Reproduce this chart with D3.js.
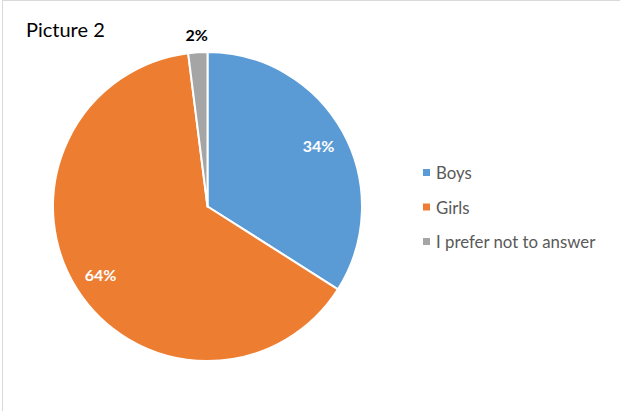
<!DOCTYPE html>
<html>
<head>
<meta charset="utf-8">
<script src="https://cdn.jsdelivr.net/npm/d3@7"></script>
<style>
  html, body { margin: 0; padding: 0; background: #fff; }
  svg { display: block; }
</style>
</head>
<body>
<svg id="chart" width="620" height="411"></svg>
<script>
// Survey answers, share of respondents (%)
const categories = ["Boys", "Girls", "I prefer not to answer"];
const values = [34, 64, 2];
const colors = ["#5b9bd5", "#ed7d31", "#a5a5a5"];
const labelColors = ["#ffffff", "#ffffff", "#000000"];
const title = "Picture 2";

const font = "Lato, 'Open Sans', sans-serif";
const svg = d3.select("#chart");

// chart area frame
svg.append("rect")
  .attr("x", 2.5).attr("y", 0.5)
  .attr("width", 640).attr("height", 420)
  .attr("fill", "#fff")
  .attr("stroke", "#d9d9d9").attr("stroke-width", 1);

svg.append("text")
  .attr("x", 26).attr("y", 37)
  .attr("font-family", font).attr("font-size", 20)
  .attr("fill", "#000")
  .text(title);

const cx = 207.5, cy = 206.5, r = 154.5;
const data = categories.map((c, i) => ({ name: c, value: values[i], color: colors[i], labelColor: labelColors[i] }));

const pie = d3.pie().sort(null).value(d => d.value);
const arcs = pie(data);
const arc = d3.arc().innerRadius(0).outerRadius(r);

const g = svg.append("g").attr("transform", `translate(${cx},${cy})`);

g.selectAll("path.slice")
  .data(arcs)
  .join("path")
  .attr("class", "slice")
  .attr("d", arc)
  .attr("fill", d => d.data.color)
  .attr("stroke", "#fff")
  .attr("stroke-width", 2)
  .attr("stroke-linejoin", "round");

// data labels: inside for large slices, outside for the small one
const inner = d3.arc().innerRadius(r * 0.82).outerRadius(r * 0.82);
const outer = d3.arc().innerRadius(r + 18).outerRadius(r + 18);

g.selectAll("text.lbl")
  .data(arcs)
  .join("text")
  .attr("class", "lbl")
  .attr("transform", d => {
    const p = (d.endAngle - d.startAngle) < 0.3 ? outer.centroid(d) : inner.centroid(d);
    return `translate(${p[0]},${p[1]})`;
  })
  .attr("text-anchor", "middle")
  .attr("dominant-baseline", "central")
  .attr("font-family", font).attr("font-size", 16).attr("font-weight", "bold")
  .attr("fill", d => d.data.labelColor)
  .text(d => d.data.value + "%");

// legend
const legendY = d3.scalePoint().domain(categories).range([172.5, 241.5]);
const lg = svg.append("g");
const items = lg.selectAll("g").data(data).join("g")
  .attr("transform", d => `translate(423,${legendY(d.name)})`);
items.append("rect")
  .attr("x", 0).attr("y", -3.5).attr("width", 7).attr("height", 7)
  .attr("fill", d => d.color);
items.append("text")
  .attr("x", 13).attr("y", 0)
  .attr("dominant-baseline", "central")
  .attr("font-family", font).attr("font-size", 16.8)
  .attr("fill", "#595959")
  .text(d => d.name);
</script>
</body>
</html>
